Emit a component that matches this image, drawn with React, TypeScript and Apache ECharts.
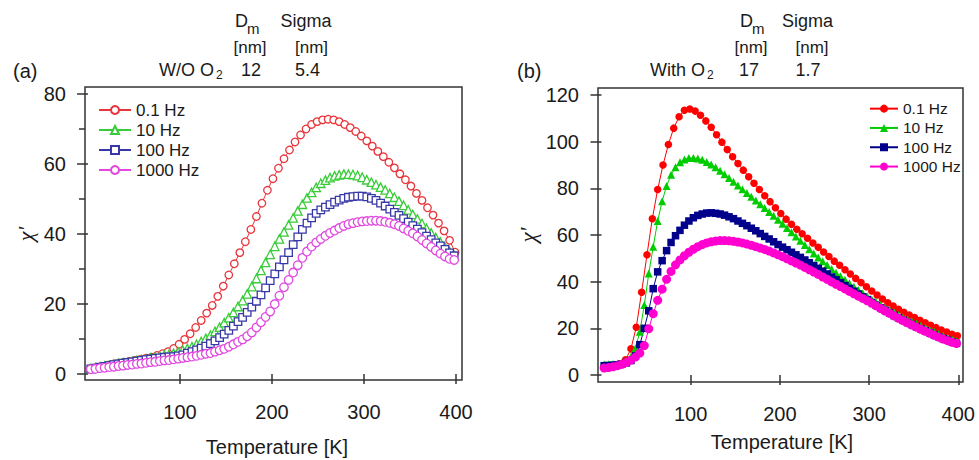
import React, { useEffect, useRef } from "react";
import * as echarts from "echarts";

// Temperature grids [K]
const tempsSparse = [3, 9, 15, 21, 27, 33, 39, 45, 51, 57, 63, 69, 75, 81, 87, 93, 99, 105, 111, 117, 123, 129, 135, 141, 147, 153, 159, 165, 171, 177, 183, 189, 195, 201, 207, 213, 219, 225, 231, 237, 243, 249, 255, 261, 267, 273, 279, 285, 291, 297, 303, 309, 315, 321, 327, 333, 339, 345, 351, 357, 363, 369, 375, 381, 387, 393, 399];
const tempsDense = [3, 8, 13, 18, 23, 28, 33, 38, 43, 48, 53, 58, 63, 68, 73, 78, 83, 88, 93, 98, 103, 108, 113, 118, 123, 128, 133, 138, 143, 148, 153, 158, 163, 168, 173, 178, 183, 188, 193, 198, 203, 208, 213, 218, 223, 228, 233, 238, 243, 248, 253, 258, 263, 268, 273, 278, 283, 288, 293, 298, 303, 308, 313, 318, 323, 328, 333, 338, 343, 348, 353, 358, 363, 368, 373, 378, 383, 388, 393, 398];

// (a) W/O O2
const leftRed = [1.6, 1.9, 2.2, 2.5, 2.8, 3.1, 3.4, 3.6, 3.9, 4.2, 4.5, 4.8, 5.3, 5.8, 6.4, 7.3, 8.5, 9.9, 11.5, 13.3, 15.3, 17.4, 19.6, 22.2, 25.1, 28.3, 31.5, 34.7, 37.8, 41.3, 45.0, 48.8, 52.5, 55.8, 58.8, 61.5, 64.0, 66.3, 68.3, 70.0, 71.3, 72.1, 72.6, 72.8, 72.6, 72.1, 71.3, 70.4, 69.3, 68.0, 66.6, 65.1, 63.6, 62.1, 60.5, 58.9, 57.2, 55.5, 53.7, 51.6, 49.6, 47.5, 45.4, 43.1, 40.9, 38.2, 34.8];
const leftGreen = [1.6, 1.8, 2.1, 2.3, 2.5, 2.8, 3.0, 3.2, 3.4, 3.6, 3.9, 4.1, 4.3, 4.6, 4.8, 5.1, 5.4, 5.6, 5.9, 6.3, 6.8, 7.3, 7.8, 8.5, 9.3, 10.2, 11.1, 12.2, 13.4, 14.7, 16.1, 17.6, 19.3, 21.0, 22.9, 25.0, 27.3, 29.6, 31.9, 34.2, 36.5, 38.6, 40.6, 42.6, 44.6, 46.6, 48.5, 50.3, 51.9, 53.3, 54.5, 55.4, 56.1, 56.6, 56.9, 57.1, 57.1, 57.0, 56.7, 56.2, 55.5, 54.8, 54.1, 53.4, 52.6, 51.6, 50.5, 49.4, 48.2, 46.9, 45.6, 44.3, 43.0, 41.6, 40.3, 39.0, 37.7, 36.3, 35.0, 33.8];
const leftBlue = [1.5, 1.7, 2.0, 2.2, 2.4, 2.7, 2.9, 3.1, 3.3, 3.5, 3.7, 3.9, 4.1, 4.3, 4.5, 4.6, 4.8, 4.9, 5.0, 5.2, 5.5, 6.0, 6.4, 6.9, 7.4, 8.0, 8.7, 9.5, 10.4, 11.4, 12.5, 13.7, 15.0, 16.2, 17.6, 19.1, 20.8, 22.6, 24.6, 26.7, 28.6, 30.6, 32.6, 34.7, 37.0, 39.2, 41.3, 43.1, 44.6, 45.9, 46.9, 47.7, 48.4, 49.1, 49.7, 50.2, 50.5, 50.7, 50.8, 50.8, 50.6, 50.2, 49.6, 48.8, 48.0, 47.1, 46.2, 45.3, 44.4, 43.4, 42.4, 41.4, 40.4, 39.4, 38.4, 37.5, 36.6, 35.6, 34.6, 33.8];
const leftPink = [1.4, 1.5, 1.7, 1.8, 2.0, 2.1, 2.3, 2.4, 2.6, 2.7, 2.9, 3.0, 3.2, 3.4, 3.5, 3.7, 3.9, 4.0, 4.2, 4.4, 4.6, 4.8, 5.0, 5.2, 5.5, 5.8, 6.0, 6.4, 6.8, 7.2, 7.8, 8.5, 9.2, 9.9, 10.8, 11.9, 13.3, 14.8, 16.3, 17.9, 20.0, 22.4, 24.8, 26.9, 29.0, 31.1, 33.2, 35.0, 36.4, 37.6, 38.6, 39.5, 40.3, 41.0, 41.7, 42.3, 42.8, 43.1, 43.4, 43.6, 43.7, 43.8, 43.8, 43.7, 43.5, 43.2, 42.8, 42.3, 41.6, 40.9, 40.2, 39.3, 38.3, 37.3, 36.3, 35.3, 34.4, 33.6, 32.9, 32.6];

// (b) With O2
const rightRed = [3.8, 4.0, 4.2, 4.8, 6.5, 11.2, 20.5, 35.5, 51.5, 67.0, 79.5, 90.0, 98.8, 105.8, 110.7, 113.5, 114.0, 113.1, 111.3, 108.9, 106.2, 103.0, 99.8, 96.6, 93.5, 90.6, 87.8, 85.0, 82.2, 79.5, 76.8, 74.3, 71.7, 69.2, 66.8, 64.6, 62.5, 60.5, 58.6, 56.6, 54.7, 52.7, 50.8, 48.8, 47.0, 45.1, 43.3, 41.4, 39.6, 37.8, 36.0, 34.3, 32.6, 31.0, 29.6, 28.2, 26.9, 25.7, 24.6, 23.5, 22.4, 21.3, 20.3, 19.3, 18.4, 17.5, 16.8];
const rightGreen = [4.5, 4.6, 4.7, 4.9, 5.2, 6.0, 7.8, 11.5, 18.5, 30.0, 43.5, 55.0, 66.0, 74.5, 81.0, 85.8, 89.0, 91.2, 92.4, 93.0, 93.0, 92.8, 92.2, 91.3, 90.2, 89.0, 87.5, 86.0, 84.4, 82.8, 81.2, 79.6, 78.0, 76.4, 74.8, 73.2, 71.6, 69.9, 68.2, 66.5, 64.8, 63.0, 61.2, 59.4, 57.5, 55.7, 53.9, 52.1, 50.4, 48.7, 47.1, 45.4, 43.8, 42.3, 40.8, 39.3, 37.8, 36.4, 35.0, 33.7, 32.4, 31.2, 30.0, 28.8, 27.7, 26.7, 25.7, 24.8, 23.8, 22.9, 22.0, 21.1, 20.2, 19.3, 18.5, 17.6, 16.8, 16.0, 15.2, 14.5];
const rightBlue = [4.0, 4.1, 4.2, 4.4, 4.7, 5.2, 6.2, 8.2, 13.0, 20.0, 27.5, 37.0, 44.2, 49.0, 53.3, 56.8, 59.7, 62.0, 64.2, 66.0, 67.4, 68.4, 69.0, 69.4, 69.5, 69.3, 69.0, 68.5, 67.8, 67.0, 66.0, 65.0, 64.0, 62.9, 61.8, 60.6, 59.4, 58.3, 57.1, 55.9, 54.8, 53.7, 52.6, 51.5, 50.4, 49.3, 48.1, 46.9, 45.7, 44.5, 43.3, 42.0, 40.8, 39.5, 38.3, 37.1, 35.9, 34.7, 33.5, 32.3, 31.1, 29.9, 28.8, 27.7, 26.6, 25.5, 24.5, 23.5, 22.5, 21.6, 20.7, 19.8, 18.9, 18.1, 17.2, 16.4, 15.6, 14.9, 14.2, 13.6];
const rightPink = [3.0, 3.2, 3.5, 4.0, 4.6, 5.4, 6.4, 7.7, 9.4, 12.6, 19.8, 26.3, 32.0, 36.8, 41.0, 44.4, 47.2, 49.3, 51.1, 52.6, 53.9, 55.0, 55.9, 56.6, 57.1, 57.4, 57.6, 57.6, 57.5, 57.3, 57.0, 56.6, 56.1, 55.6, 55.0, 54.4, 53.8, 53.1, 52.3, 51.5, 50.7, 49.8, 48.9, 48.0, 47.1, 46.1, 45.1, 44.1, 43.1, 42.0, 41.0, 39.9, 38.9, 37.9, 36.9, 35.8, 34.8, 33.8, 32.8, 31.8, 30.7, 29.6, 28.5, 27.4, 26.4, 25.3, 24.3, 23.3, 22.3, 21.4, 20.5, 19.6, 18.7, 17.9, 17.0, 16.2, 15.4, 14.7, 14.0, 13.5];

const xTicks = [100, 200, 300, 400];
const leftYTicks = [0, 20, 40, 60, 80];
const leftYMinor = [10, 30, 50, 70];
const rightYTicks = [0, 20, 40, 60, 80, 100, 120];
const freqLabels = ["0.1 Hz", "10 Hz", "100 Hz", "1000 Hz"];

const FONT = "'Liberation Sans', Arial, Helvetica, sans-serif";
const SERIF = "'Liberation Serif', 'DejaVu Serif', serif";
const AX = "#333";
const TXT = "#1a1a1a";

const leftColors = ["#e8343a", "#38cc38", "#3838a8", "#e048e0"];
const rightColors = ["#ff0000", "#00cc00", "#00008b", "#ff00d0"];

function pairs(ts: number[], vs: number[]) {
  return vs.map((v, i) => [ts[i], v]);
}

function xAxisDef(gridIndex: number, min: number, max: number) {
  return {
    type: "value",
    gridIndex,
    min,
    max,
    axisLine: { show: false },
    splitLine: { show: false },
    axisTick: { show: true, customValues: xTicks, length: 10, lineStyle: { color: AX, width: 1.5 } },
    axisLabel: { customValues: xTicks, fontSize: 20, color: TXT, margin: 22, fontFamily: FONT },
  };
}

function txt(text: string, x: number, y: number, fontSize: number, align = "center", extra: any = {}, family = FONT, fontStyle = "normal") {
  return {
    type: "text",
    x,
    y,
    silent: true,
    ...extra,
    style: { text, fill: TXT, fontSize, fontFamily: family, fontStyle, align, verticalAlign: "middle" },
  };
}

function makeSeries(name: string, xi: number, yi: number, ts: number[], vs: number[], color: string, symbol: string, size: number, open: boolean) {
  return {
    type: "line",
    name,
    xAxisIndex: xi,
    yAxisIndex: yi,
    data: pairs(ts, vs),
    symbol,
    symbolSize: size,
    showSymbol: true,
    showAllSymbol: true,
    lineStyle: { color, width: 1 },
    itemStyle: open ? { color: "#fff", borderColor: color, borderWidth: 1.3 } : { color, borderColor: color, borderWidth: 0 },
    emphasis: { disabled: true },
    silent: true,
  };
}

const leftSymbols = ["circle", "triangle", "rect", "circle"];
const leftSizes = [7.5, 8.5, 7.5, 8.5];
const rightSymbols = ["circle", "triangle", "rect", "circle"];
const rightSizes = [7.5, 8, 7.5, 9];
const leftData = [leftRed, leftGreen, leftBlue, leftPink];
const rightData = [rightRed, rightGreen, rightBlue, rightPink];

const option: any = {
  animation: false,
  backgroundColor: "#fff",
  grid: [
    { left: 85, top: 87, width: 377, height: 293, show: true, borderColor: AX, borderWidth: 1.5, containLabel: false, outerBoundsMode: "none" },
    { left: 598, top: 88, width: 365, height: 294, show: true, borderColor: AX, borderWidth: 1.5, containLabel: false, outerBoundsMode: "none" },
  ],
  xAxis: [xAxisDef(0, -3.3, 406.5), xAxisDef(1, -3.9, 405.3)],
  yAxis: [
    {
      type: "value",
      gridIndex: 0,
      position: "left",
      min: -1.7,
      max: 82,
      axisLine: { show: false },
      splitLine: { show: false },
      axisTick: { show: true, customValues: leftYTicks, length: 11, lineStyle: { color: AX, width: 1.5 } },
      axisLabel: { customValues: leftYTicks, fontSize: 20, color: TXT, margin: 19, fontFamily: FONT },
    },
    {
      type: "value",
      gridIndex: 0,
      position: "left",
      offset: 0,
      min: -1.7,
      max: 82,
      axisLine: { show: false },
      splitLine: { show: false },
      axisTick: { show: true, customValues: leftYMinor, length: 6, lineStyle: { color: AX, width: 1.5 } },
      axisLabel: { show: false },
    },
    {
      type: "value",
      gridIndex: 1,
      position: "left",
      min: -3,
      max: 123,
      axisLine: { show: false },
      splitLine: { show: false },
      axisTick: { show: true, customValues: rightYTicks, length: 11, lineStyle: { color: AX, width: 1.5 } },
      axisLabel: { customValues: rightYTicks, fontSize: 20, color: TXT, margin: 19, fontFamily: FONT },
    },
  ],
  legend: [
    {
      orient: "vertical",
      left: 93,
      top: 95,
      itemWidth: 32,
      itemHeight: 10,
      itemGap: 0,
      selectedMode: false,
      data: freqLabels,
      textStyle: { fontSize: 17, color: TXT, fontFamily: FONT, lineHeight: 20 },
    },
    {
      orient: "vertical",
      left: 864,
      top: 94,
      itemWidth: 28,
      itemHeight: 10,
      itemGap: 0,
      selectedMode: false,
      data: freqLabels.map((n) => n + " "),
      formatter: (n: string) => n.trim(),
      textStyle: { fontSize: 15.5, color: TXT, fontFamily: FONT, lineHeight: 19.3 },
    },
  ],
  series: [
    ...freqLabels.map((n, i) => makeSeries(n, 0, 0, i === 0 ? tempsSparse : tempsDense, leftData[i], leftColors[i], leftSymbols[i], leftSizes[i], true)),
    ...freqLabels.map((n, i) => makeSeries(n + " ", 1, 2, i === 0 ? tempsSparse : tempsDense, rightData[i], rightColors[i], rightSymbols[i], rightSizes[i], false)),
  ],
  graphic: [
    // panel (a) header
    txt("(a)", 13, 71, 20, "left"),
    txt("D", 235, 21, 18, "left"),
    txt("m", 247, 28, 15, "left"),
    txt("Sigma", 306, 21, 18),
    txt("[nm]", 250, 47, 17),
    txt("[nm]", 311.5, 47, 17),
    txt("W/O O", 214, 70, 18, "right"),
    txt("2", 216, 75, 12, "left"),
    txt("12", 251, 70, 18),
    txt("5.4", 307.5, 70, 18),
    txt("χ'", 25, 234, 22, "center", { rotation: Math.PI / 2 }, SERIF, "italic"),
    txt("Temperature [K]", 277, 447, 20),
    // panel (b) header
    txt("(b)", 517, 71, 20, "left"),
    txt("D", 740, 21, 18, "left"),
    txt("m", 752, 28, 15, "left"),
    txt("Sigma", 807.5, 21, 18),
    txt("[nm]", 751, 47, 17),
    txt("[nm]", 812, 47, 17),
    txt("With O", 705, 70, 18, "right"),
    txt("2", 707, 75, 12, "left"),
    txt("17", 749, 70, 18),
    txt("1.7", 808, 70, 18),
    txt("χ'", 528, 235, 23, "center", { rotation: Math.PI / 2 }, SERIF, "italic"),
    txt("Temperature [K]", 782, 442, 20),
  ],
};

export default function App() {
  const ref = useRef<HTMLDivElement>(null);
  useEffect(() => {
    if (!ref.current) return;
    const chart = echarts.init(ref.current, null, { renderer: "svg", width: 979, height: 460 });
    chart.setOption(option);
    return () => {
      chart.dispose();
    };
  }, []);
  return (
    <div
      ref={ref}
      style={{ position: "fixed", left: 0, top: 0, width: 979, height: 460, background: "#fff" }}
    />
  );
}
